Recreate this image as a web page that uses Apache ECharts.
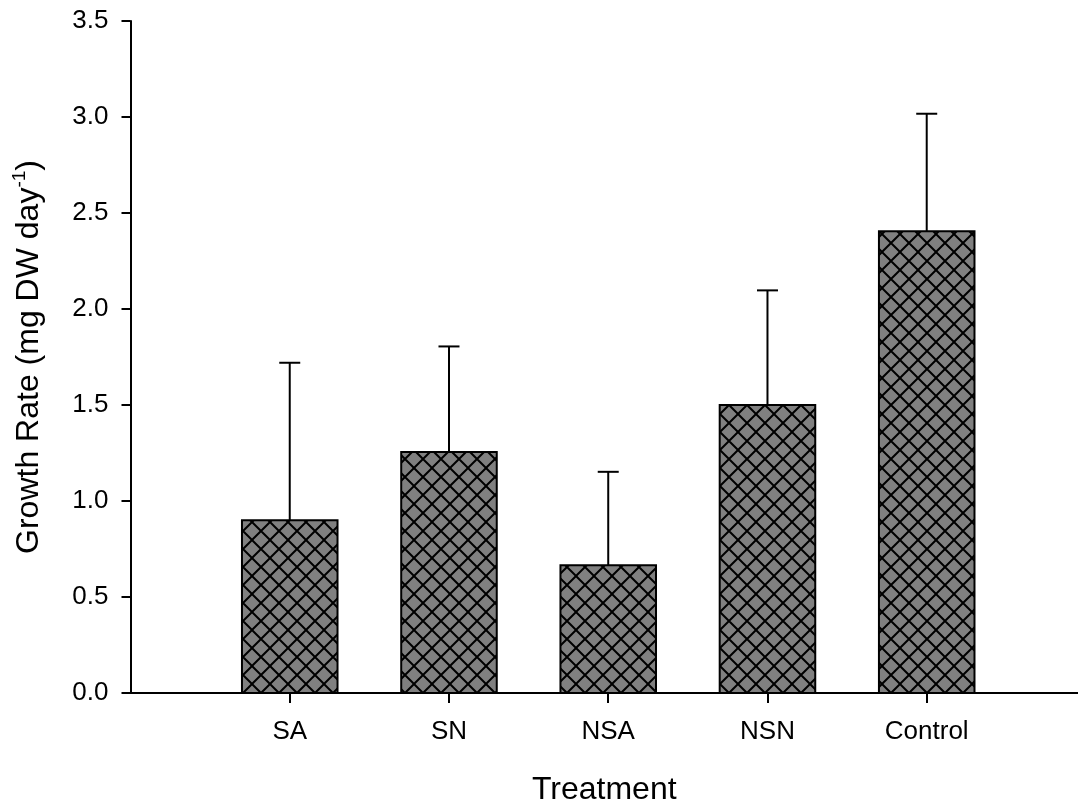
<!DOCTYPE html>
<html>
<head>
<meta charset="utf-8">
<script src="https://cdn.jsdelivr.net/npm/echarts@6/dist/echarts.min.js"></script>
<style>html,body{margin:0;padding:0;background:#fff;}#c{width:1078px;height:811px;}</style>
</head>
<body>
<div id="c"></div>
<script>
const categories = ['SA', 'SN', 'NSA', 'NSN', 'Control'];
const positions = [1, 2, 3, 4, 5];
const means = [0.90, 1.255, 0.665, 1.50, 2.405];
const errors = [0.82, 0.55, 0.487, 0.597, 0.612];
const yTicks = [0, 0.5, 1.0, 1.5, 2.0, 2.5, 3.0, 3.5];

function makePattern() {
  const s = 18;
  const cv = document.createElement('canvas');
  cv.width = s; cv.height = s;
  const ctx = cv.getContext('2d');
  ctx.fillStyle = '#808080';
  ctx.fillRect(0, 0, s, s);
  ctx.strokeStyle = '#000';
  ctx.lineWidth = 2;
  ctx.beginPath();
  ctx.moveTo(-3, -3); ctx.lineTo(s + 3, s + 3);
  ctx.moveTo(-3, s + 3); ctx.lineTo(s + 3, -3);
  ctx.stroke();
  return cv;
}
const pattern = { image: makePattern(), repeat: 'repeat' };

const barData = positions.map((p, i) => [p, means[i]]);
const errData = positions.map((p, i) => [p, means[i], means[i] + errors[i]]);

const FONT = 'Liberation Sans, Arial, sans-serif';
const chart = echarts.init(document.getElementById('c'), null, { renderer: 'canvas' });
chart.setOption({
  backgroundColor: '#fff',
  animation: false,
  grid: { left: 130.5, top: 21, right: 0, bottom: 117, containLabel: false },
  xAxis: [{
    type: 'value', min: 0, max: 5.95,
    name: 'Treatment', nameLocation: 'middle', nameGap: 81,
    nameTextStyle: { fontFamily: FONT, fontSize: 32, color: '#000' },
    axisLine: { show: true, onZero: false, lineStyle: { color: '#000', width: 2 } },
    axisTick: { show: true, inside: false, length: 10, customValues: positions, lineStyle: { color: '#000', width: 2 } },
    axisLabel: { show: true, margin: 26, customValues: positions, fontFamily: FONT, fontSize: 26, color: '#000',
      formatter: v => { const i = positions.indexOf(v); return i >= 0 ? categories[i] : ''; } },
    splitLine: { show: false }
  }, {
    type: 'value', position: 'top', min: 0, max: 5.95,
    axisLine: { show: true, lineStyle: { color: '#000', width: 2 } },
    axisTick: { show: false }, axisLabel: { show: false }, splitLine: { show: false }
  }],
  yAxis: {
    type: 'value', min: 0, max: 3.5, interval: 0.5,
    name: '{a|Growth Rate (mg DW day}{s|-1}{a|)}', nameLocation: 'middle', nameGap: 82, nameRotate: 90,
    nameTextStyle: { fontFamily: FONT, color: '#000',
      rich: {
        a: { fontFamily: FONT, fontSize: 32, lineHeight: 38, color: '#000' },
        s: { fontFamily: FONT, fontSize: 19, lineHeight: 19, verticalAlign: 'top', color: '#000' }
      } },
    axisLine: { show: true, lineStyle: { color: '#000', width: 2 } },
    axisTick: { show: true, inside: false, length: 9, lineStyle: { color: '#000', width: 2 } },
    axisLabel: { margin: 22, fontFamily: FONT, fontSize: 26, color: '#000', formatter: v => v.toFixed(1) },
    splitLine: { show: false }
  },
  series: [{
    type: 'custom',
    data: barData,
    clip: false,
    renderItem: (params, api) => {
      const x = api.value(0), y = api.value(1);
      const top = api.coord([x, y]);
      const base = api.coord([x, 0]);
      const w = api.size([0.6, 0])[0];
      return {
        type: 'rect',
        shape: { x: top[0] - w / 2, y: top[1], width: w, height: base[1] - top[1] },
        style: { fill: pattern, stroke: '#000', lineWidth: 2 }
      };
    }
  }, {
    type: 'custom',
    data: errData,
    clip: false,
    z: 3,
    renderItem: (params, api) => {
      const x = api.value(0);
      const p0 = api.coord([x, api.value(1)]);
      const p1 = api.coord([x, api.value(2)]);
      const cap = 10.5;
      return {
        type: 'group',
        children: [
          { type: 'line', shape: { x1: p0[0], y1: p0[1], x2: p1[0], y2: p1[1] }, style: { stroke: '#000', lineWidth: 2 } },
          { type: 'line', shape: { x1: p1[0] - cap, y1: p1[1], x2: p1[0] + cap, y2: p1[1] }, style: { stroke: '#000', lineWidth: 2 } }
        ]
      };
    }
  }]
});
</script>
</body>
</html>
